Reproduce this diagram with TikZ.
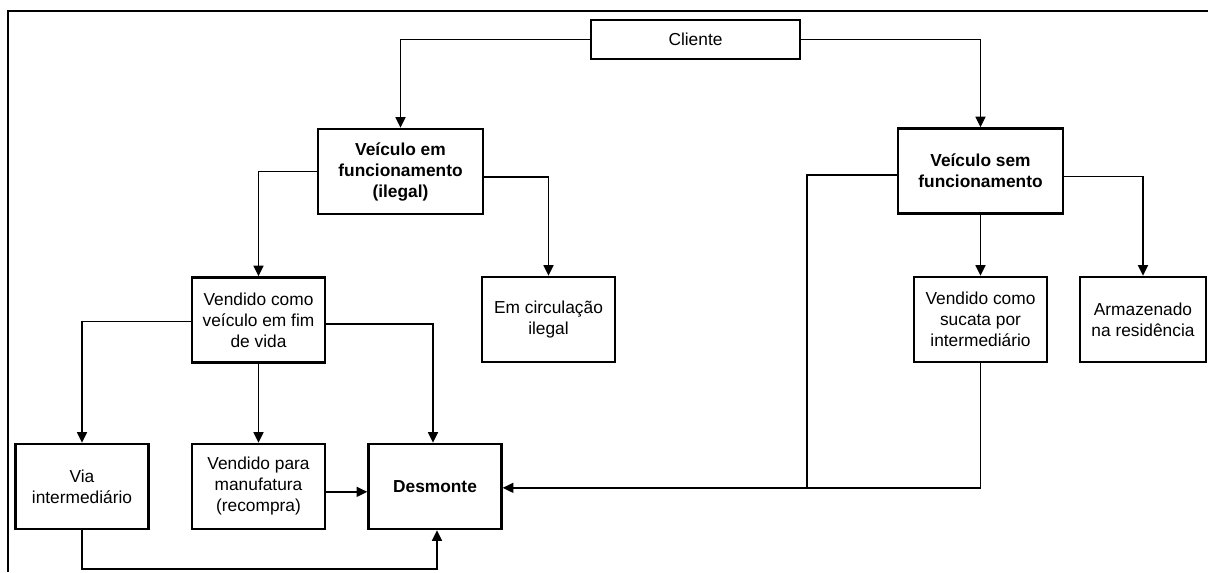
\documentclass[tikz,border=0pt]{standalone}
\usepackage{fontspec}
\setmainfont{Liberation Sans}
\usetikzlibrary{arrows.meta,positioning}

\begin{document}
\begin{tikzpicture}[x=0.75pt, y=-0.75pt, font=\fontsize{13}{15.75}\selectfont,
	box/.style={rectangle, draw=black, line width=1.8pt, fill=white, minimum width=99.75pt, minimum height=63.75pt, align=center, inner sep=2pt},
	link/.style={line width=1.1pt, -{Triangle[length=8pt, width=7.5pt]}},
	plain/.style={line width=1.1pt}]

	\useasboundingbox (0,0) rectangle (1208,572);
	\draw[line width=1pt] (8,572) -- (8,11) -- (1208,11);

	% Nodes
	\node[box, minimum width=156.75pt, minimum height=29.25pt] (Cli) at (695.5,39.5) {Cliente};
	\node[box, minimum width=123.75pt] (VEF) at (400.5,171.5) {\textbf{Veículo em}\\\textbf{funcionamento}\\\textbf{(ilegal)}};
	\node[box, minimum width=123.75pt] (VSF) at (980.5,171) {\textbf{Veículo sem}\\\textbf{funcionamento}};
	\node[box] (VFV) at (258.5,320) {Vendido como\\veículo em fim\\de vida};
	\node[box] (EC) at (548.5,319.5) {Em circulação\\ilegal};
	\node[box] (VS) at (980.5,319.5) {Vendido como\\sucata por\\intermediário};
	\node[box, minimum width=94.5pt] (AR) at (1143,319.5) {Armazenado\\na residência};
	\node[box] (VI) at (82,486.5) {Via\\intermediário};
	\node[box] (VM) at (258.5,486.5) {Vendido para\\manufatura\\(recompra)};
	\node[box] (DM) at (435,486.5) {\textbf{Desmonte}};
	\coordinate (J) at (807,488);

	% Dependencies
	\draw[link] (Cli.west) -| (VEF.north);
	\draw[link] (Cli.east) -| (VSF.north);
	\draw[link] (VEF.west) -| (VFV.north);
	\draw[link] ([yshift=-4pt]VEF.east) -| (EC.north);
	\draw[plain] ([yshift=-3pt]VSF.west) -| (J);
	\draw[link] ([yshift=-4pt]VSF.east) -| (AR.north);
	\draw[link] (VSF) -- (VS);
	\draw[link] (VS.south) |- ([yshift=-1pt]DM.east);
	\draw[link] ([yshift=-1pt]VFV.west) -| (VI.north);
	\draw[link] (VFV) -- (VM);
	\draw[link] ([yshift=-3pt]VFV.east) -| ([xshift=-1.5pt]DM.north);
	\draw[link] ([yshift=-4pt]VM.east) -- ([yshift=-4pt]DM.west);
	\draw[link] (VI.south) -- ++(0,39) -| ([xshift=1.5pt]DM.south);
\end{tikzpicture}
\end{document}
